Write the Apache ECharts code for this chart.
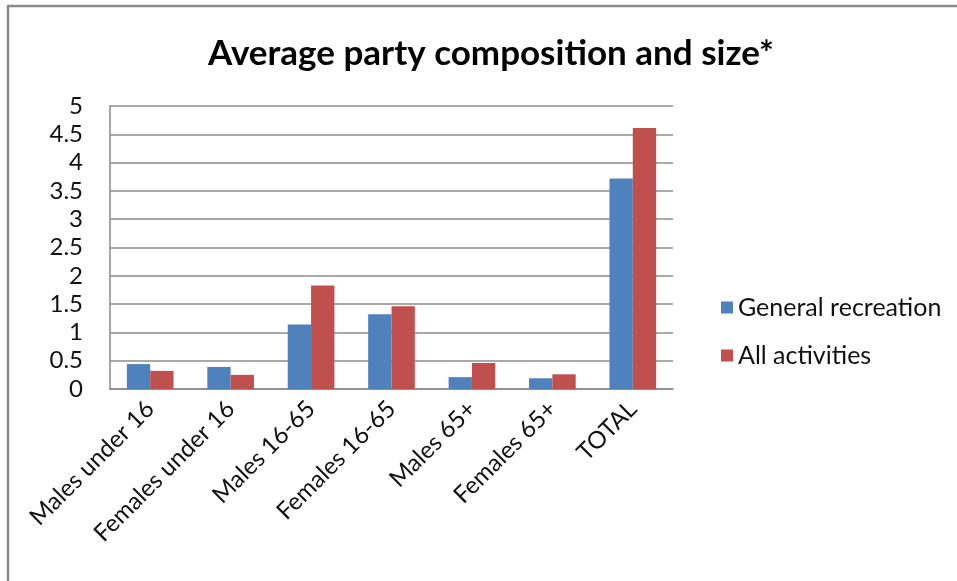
<!DOCTYPE html>
<html>
<head>
<meta charset="utf-8">
<script src="https://cdn.jsdelivr.net/npm/echarts@6/dist/echarts.min.js"></script>
<style>
  html, body { margin: 0; padding: 0; background: #fff; }
  #chart { width: 957px; height: 581px; }
</style>
</head>
<body>
<div id="chart"></div>
<script>
// Average party members per group, by age/sex band
const categories = ['Males under 16', 'Females under 16', 'Males 16-65', 'Females 16-65', 'Males 65+', 'Females 65+', 'TOTAL'];
const generalRecreation = [0.44, 0.39, 1.14, 1.32, 0.21, 0.19, 3.72];
const allActivities = [0.32, 0.25, 1.83, 1.46, 0.46, 0.26, 4.61];
const yTicks = [0, 0.5, 1, 1.5, 2, 2.5, 3, 3.5, 4, 4.5, 5];

const FONT = 'Lato, "Open Sans", sans-serif';
const chart = echarts.init(document.getElementById('chart'));

chart.setOption({
  animation: false,
  backgroundColor: '#fff',
  title: {
    text: 'Average party composition and size*',
    left: 486,
    top: 31,
    textAlign: 'center',
    textStyle: { fontFamily: FONT, fontWeight: 'bold', fontSize: 35, color: '#000' }
  },
  legend: {
    orient: 'vertical',
    left: 716,
    top: 290,
    itemWidth: 12,
    itemHeight: 12,
    itemGap: 23,
    icon: 'rect',
    textStyle: { fontFamily: FONT, fontSize: 25, color: '#111' },
    data: ['General recreation', 'All activities']
  },
  grid: { left: 110, right: 284, top: 106, bottom: 192 },
  xAxis: {
    type: 'category',
    data: categories,
    axisLine: { lineStyle: { color: '#888', width: 1.5 } },
    axisTick: { show: false },
    axisLabel: {
      interval: 0,
      rotate: 45,
      margin: 16,
      fontFamily: FONT,
      fontSize: 24,
      color: '#111'
    }
  },
  yAxis: {
    type: 'value',
    min: yTicks[0],
    max: yTicks[yTicks.length - 1],
    interval: 0.5,
    axisLine: { show: true, lineStyle: { color: '#888', width: 1.5 } },
    axisTick: { show: false },
    splitLine: { lineStyle: { color: '#8c8c8c', width: 1.5 } },
    axisLabel: {
      margin: 27,
      fontFamily: FONT,
      fontSize: 24,
      color: '#111',
      formatter: v => String(v)
    }
  },
  series: [
    {
      name: 'General recreation',
      type: 'bar',
      data: generalRecreation,
      barGap: '0%',
      barCategoryGap: '42%',
      itemStyle: { color: '#4f81bd' }
    },
    {
      name: 'All activities',
      type: 'bar',
      data: allActivities,
      itemStyle: { color: '#c0504d' }
    }
  ],
  graphic: [
    // frame lines along the top and left edges
    { type: 'line', shape: { x1: 8, y1: 6, x2: 957, y2: 6 }, style: { stroke: '#8a8a8a', lineWidth: 2.5 } },
    { type: 'line', shape: { x1: 8, y1: 5, x2: 8, y2: 581 }, style: { stroke: '#8a8a8a', lineWidth: 2.5 } }
  ]
});
</script>
</body>
</html>
